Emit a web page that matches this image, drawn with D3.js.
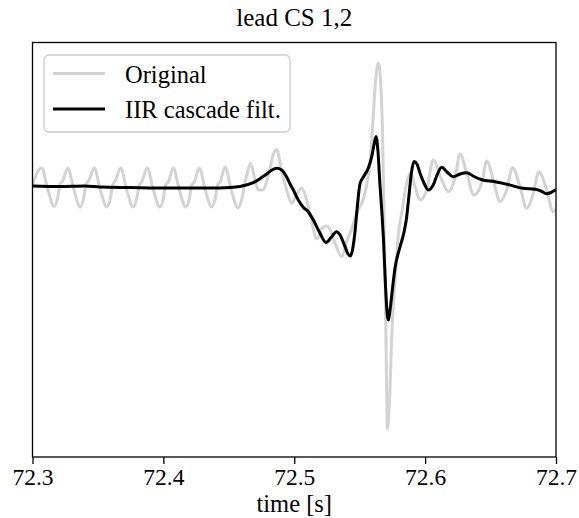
<!DOCTYPE html>
<html>
<head>
<meta charset="utf-8">
<script src="https://cdn.jsdelivr.net/npm/d3@7"></script>
<style>
  body { margin: 0; background: #fff; }
  svg text { font-family: "Liberation Serif", "DejaVu Serif", serif !important; }
</style>
</head>
<body>
<div class="chart"></div>
<script>
// time [s] and amplitude
const origTime = [72.3000, 72.3019, 72.3042, 72.3070,
  72.3116, 72.3166, 72.3192, 72.3211, 72.3230, 72.3269,
  72.3315, 72.3365, 72.3391, 72.3410, 72.3429, 72.3472,
  72.3518, 72.3568, 72.3594, 72.3613, 72.3632, 72.3674,
  72.3720, 72.3770, 72.3796, 72.3815, 72.3834, 72.3877,
  72.3923, 72.3973, 72.3999, 72.4018, 72.4037, 72.4076,
  72.4122, 72.4172, 72.4198, 72.4217, 72.4236, 72.4274,
  72.4320, 72.4370, 72.4396, 72.4415, 72.4434, 72.4471,
  72.4517, 72.4570, 72.4601, 72.4624, 72.4643, 72.4667,
  72.4700, 72.4725, 72.4764, 72.4792, 72.4815, 72.4838, 72.4866,
  72.4904, 72.4942, 72.4981, 72.5013, 72.5057, 72.5095, 72.5128,
  72.5172, 72.5212, 72.5250, 72.5281, 72.5311, 72.5363, 72.5401,
  72.5439, 72.5477, 72.5528, 72.5552, 72.5579, 72.5602, 72.5617,
  72.5642, 72.5659, 72.5674, 72.5688, 72.5701, 72.5712, 72.5728,
  72.5747, 72.5770, 72.5795, 72.5821, 72.5859, 72.5888, 72.5923,
  72.5961, 72.6012, 72.6062, 72.6127, 72.6177, 72.6228, 72.6267,
  72.6318, 72.6373, 72.6432, 72.6471, 72.6521, 72.6572, 72.6623,
  72.6668, 72.6725, 72.6776, 72.6827, 72.6870, 72.6929, 72.6979, 72.7000];
const origValue = [0.02, 0.08, 0.15, 0.18,
  -0.03, -0.205, -0.12, 0.02, 0.05, 0.18,
  -0.03, -0.21, -0.12, 0.02, 0.05, 0.18,
  -0.04, -0.21, -0.13, 0.01, 0.05, 0.18,
  -0.04, -0.21, -0.13, 0.01, 0.04, 0.18,
  -0.04, -0.21, -0.13, 0.01, 0.04, 0.18,
  -0.04, -0.21, -0.13, 0.01, 0.04, 0.18,
  -0.04, -0.21, -0.13, 0.01, 0.04, 0.19,
  -0.03, -0.22, -0.12, 0.04, 0.14, 0.227,
  0.06, -0.04, -0.04, 0.06, 0.18, 0.31, 0.365,
  0.14, -0.04, -0.173, -0.10, -0.023, -0.14, -0.32,
  -0.53, -0.42, -0.40, -0.46, -0.57, -0.707, -0.55,
  -0.43, -0.27, -0.13, 0.0, 0.24, 0.66, 0.98,
  1.227, 1.06, 0.56, -0.44, -1.54, -2.43, -2.14,
  -1.44, -0.94, -0.49, -0.27, 0.03, 0.13, -0.007,
  -0.14, -0.04, 0.26, 0.06, -0.057, 0.08, 0.32,
  0.127, -0.09, 0.027, 0.25, 0.06, -0.155, -0.04,
  0.185, -0.007, -0.223, -0.073, 0.143, -0.04, -0.257, -0.23];

const filtTime = [72.3000, 72.3210, 72.3401, 72.3516, 72.3745, 72.4051, 72.4356,
  72.4509, 72.4586, 72.4687, 72.4790, 72.4830, 72.4866, 72.4904, 72.4942,
  72.4968, 72.4993, 72.5031, 72.5067, 72.5105, 72.5146, 72.5197, 72.5243,
  72.5286, 72.5324, 72.5350, 72.5388, 72.5411, 72.5430, 72.5445, 72.5464,
  72.5483, 72.5502, 72.5528, 72.5566, 72.5592, 72.5609, 72.5625, 72.5640,
  72.5655, 72.5671, 72.5682, 72.5697, 72.5711, 72.5720, 72.5732, 72.5751,
  72.5770, 72.5808, 72.5839, 72.5858, 72.5877, 72.5896, 72.5915, 72.5938,
  72.5961, 72.5991, 72.6024, 72.6062, 72.6091, 72.6127, 72.6167, 72.6215,
  72.6267, 72.6318, 72.6373, 72.6432, 72.6534, 72.6633, 72.6748, 72.6840,
  72.6885, 72.6929, 72.6962, 72.7000];
const filtValue = [0.00, -0.005, 0.00, -0.01, -0.015, -0.02, -0.02,
  -0.015, -0.005, 0.033, 0.12, 0.16, 0.177, 0.16, 0.09,
  0.02, -0.04, -0.14, -0.21, -0.255, -0.34, -0.473, -0.565,
  -0.507, -0.457, -0.49, -0.607, -0.68, -0.70, -0.64, -0.46,
  -0.19, 0.02, 0.09, 0.18, 0.293, 0.41, 0.495, 0.34,
  0.01, -0.29, -0.54, -0.99, -1.29, -1.34, -1.24, -1.02,
  -0.82, -0.61, -0.46, -0.32, -0.09, 0.14, 0.245, 0.22,
  0.127, 0.03, -0.04, 0.01, 0.11, 0.187, 0.14, 0.093,
  0.12, 0.133, 0.095, 0.063, 0.043, 0.015, -0.023, -0.033,
  -0.05, -0.077, -0.065, -0.035];

const xTicks = [72.3, 72.4, 72.5, 72.6, 72.7];
const seriesNames = ["Original", "IIR cascade filt."];
const seriesColors = ["#d3d3d3", "#000000"];

const serif = '"Liberation Serif", "DejaVu Serif", serif';
const margin = {top: 42.5, left: 32.5, bottom: 61, right: 23};
const width = 579 - margin.left - margin.right;
const height = 518 - margin.top - margin.bottom;

const svg = d3.select('.chart').append('svg')
    .attr('width', 579)
    .attr('height', 518)
    .style('font-family', serif)
    .append('g')
    .attr('transform', 'translate(' + margin.left + ',' + margin.top + ')');

const xScale = d3.scaleLinear().domain([72.3, 72.7]).range([0, width]);
const yScale = d3.scaleLinear().domain([-2.71, 1.435]).range([height, 0]);

const line = d3.line()
    .x(d => xScale(d[0]))
    .y(d => yScale(d[1]))
    .curve(d3.curveMonotoneX);

const orig = origTime.map((t, i) => [t, origValue[i]]);
const filt = filtTime.map((t, i) => [t, filtValue[i]]);

svg.append('defs').append('clipPath').attr('id', 'clip')
    .append('rect').attr('width', width).attr('height', height);

[orig, filt].forEach((data, i) => {
    svg.append('path')
        .datum(data)
        .attr('clip-path', 'url(#clip)')
        .attr('fill', 'none')
        .attr('stroke', seriesColors[i])
        .attr('stroke-width', 3)
        .attr('stroke-linejoin', 'round')
        .attr('d', line);
});

// frame
svg.append('rect')
    .attr('width', width)
    .attr('height', height)
    .attr('fill', 'none')
    .attr('stroke', 'black')
    .attr('stroke-width', 1.3);

const xAxis = d3.axisBottom(xScale)
    .tickValues(xTicks)
    .tickFormat(d3.format('.1f'))
    .tickSize(7)
    .tickPadding(4);

const gx = svg.append('g')
    .attr('class', 'axis x-axis')
    .attr('transform', `translate(0, ${height})`)
    .call(xAxis)
    .attr('font-family', null)
    .style('font-family', serif);
gx.select('.domain').remove();
gx.selectAll('line').attr('stroke-width', 1.3);
gx.selectAll('text')
    .attr('font-size', 23.5)
    .attr('fill', 'black')
    .style('font-family', serif);

svg.append('text')
    .attr('x', width / 2)
    .attr('y', 512 - margin.top)
    .attr('text-anchor', 'middle')
    .attr('font-size', 24.5)
    .style('font-family', serif)
    .text('time [s]');

svg.append('text')
    .attr('x', width / 2)
    .attr('y', 26 - margin.top)
    .attr('text-anchor', 'middle')
    .attr('font-size', 25)
    .style('font-family', serif)
    .text('lead CS 1,2');

// legend
const legend = svg.append('g')
    .attr('transform', 'translate(' + (44 - margin.left) + ',' + (55 - margin.top) + ')');

legend.append('rect')
    .attr('width', 246)
    .attr('height', 77)
    .attr('rx', 5)
    .attr('fill', 'white')
    .attr('fill-opacity', 0.8)
    .attr('stroke', '#cccccc')
    .attr('stroke-width', 1.3);

seriesNames.forEach((name, i) => {
    const g = legend.append('g').attr('transform', 'translate(0,' + (18.5 + i * 35.5) + ')');
    g.append('line')
        .attr('x1', 9).attr('x2', 61)
        .attr('stroke', seriesColors[i])
        .attr('stroke-width', 3);
    g.append('text')
        .attr('x', 81)
        .attr('y', 9)
        .attr('font-size', 24.5)
        .style('font-family', serif)
        .text(name);
});
</script>
</body>
</html>
